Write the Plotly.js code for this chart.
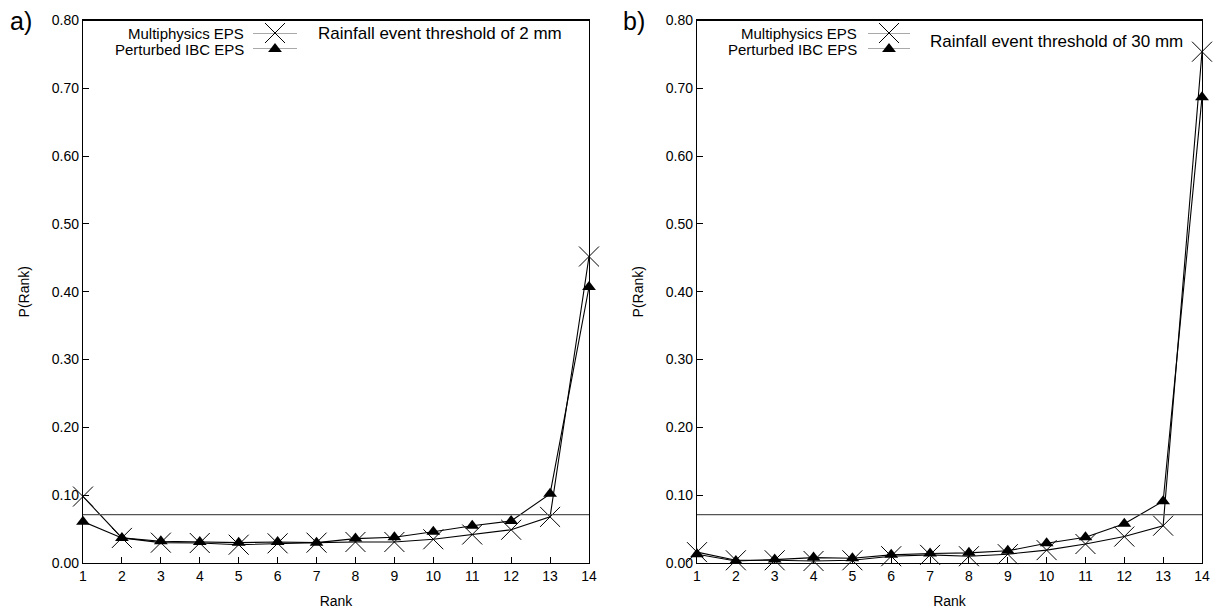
<!DOCTYPE html>
<html><head><meta charset="utf-8">
<script src="https://cdn.plot.ly/plotly-3.0.1.min.js"></script>
<style>html,body{margin:0;padding:0;background:#fff}#c{width:1226px;height:612px}</style>
</head><body><div id="c"></div>
<script>
const ranks = [1,2,3,4,5,6,7,8,9,10,11,12,13,14];
const multi2mm = [0.098,0.037,0.030,0.0295,0.027,0.029,0.030,0.031,0.031,0.035,0.042,0.049,0.068,0.452];
const pert2mm  = [0.061,0.037,0.032,0.031,0.030,0.031,0.030,0.036,0.038,0.046,0.055,0.062,0.102,0.407];
const multi30mm = [0.016,0.004,0.004,0.003,0.004,0.010,0.012,0.010,0.013,0.019,0.028,0.039,0.055,0.754];
const pert30mm  = [0.013,0.003,0.005,0.008,0.007,0.012,0.014,0.015,0.018,0.029,0.038,0.058,0.091,0.687];
const seriesNames = ['Multiphysics EPS','Perturbed IBC EPS'];
const panelTitles = ['Rainfall event threshold of 2 mm','Rainfall event threshold of 30 mm'];
const panelLabels = ['a)','b)'];
const yTicks = [0,0.1,0.2,0.3,0.4,0.5,0.6,0.7,0.8];
const yTickText = ['0.00','0.10','0.20','0.30','0.40','0.50','0.60','0.70','0.80'];
const uniformP = 1/ranks.length;

const FONT = 'Liberation Sans, Arial, sans-serif';
const xMarker = {symbol:'x-thin-open', size:20, color:'#000', line:{color:'#000', width:1}};
const tMarker = {symbol:'triangle-up', size:12, color:'#000', line:{color:'#000', width:0}};

function seriesTraces(xa, ya, m, p){
  return [
    {x:ranks, y:m, xaxis:xa, yaxis:ya, mode:'lines+markers', line:{color:'#000',width:1.1}, marker:xMarker, cliponaxis:false, showlegend:false, name:seriesNames[0]},
    {x:ranks, y:p, xaxis:xa, yaxis:ya, mode:'lines+markers', line:{color:'#000',width:1.1}, marker:tMarker, cliponaxis:false, showlegend:false, name:seriesNames[1]}
  ];
}
// legend sample traces on hidden overlay axes
function legendTraces(xa, ya){
  return [
    {x:[0,0.5,1], y:[1,1,1], xaxis:xa, yaxis:ya, mode:'lines', line:{color:'#555',width:1.1}, showlegend:false, hoverinfo:'skip'},
    {x:[0.5], y:[1], xaxis:xa, yaxis:ya, mode:'markers', marker:xMarker, showlegend:false, cliponaxis:false, hoverinfo:'skip'},
    {x:[0,0.5,1], y:[0,0,0], xaxis:xa, yaxis:ya, mode:'lines', line:{color:'#555',width:1.1}, showlegend:false, hoverinfo:'skip'},
    {x:[0.5], y:[0], xaxis:xa, yaxis:ya, mode:'markers', marker:tMarker, showlegend:false, cliponaxis:false, hoverinfo:'skip'}
  ];
}

const data = [
  ...seriesTraces('x','y',multi2mm,pert2mm),
  ...seriesTraces('x2','y2',multi30mm,pert30mm),
  ...legendTraces('x3','y3'),
  ...legendTraces('x4','y4')
];

const yDom = [49/612, 591.5/612];
function xAxis(dom, anchor){
  return {domain:dom, anchor:anchor, range:[1,14], tickvals:ranks, ticks:'inside', ticklen:6, tickcolor:'#000',
    showline:true, linecolor:'#000', linewidth:1.2, mirror:true, showgrid:false, zeroline:false,
    tickfont:{family:FONT,size:14,color:'#000'}, title:{text:'Rank', font:{family:FONT,size:14,color:'#000'}, standoff:13}};
}
function yAxis(anchor){
  return {domain:yDom, anchor:anchor, range:[0,0.8], tickvals:yTicks, ticktext:yTickText, ticks:'inside', ticklen:6, tickcolor:'#000',
    showline:true, linecolor:'#000', linewidth:1.2, mirror:true, showgrid:false, zeroline:false,
    tickfont:{family:FONT,size:14,color:'#000'}, title:{text:'P(Rank)', font:{family:FONT,size:14,color:'#000'}, standoff:18}};
}
const hid = {visible:false, showgrid:false, zeroline:false, fixedrange:true};
const dA = [83/1226, 589/1226], dB = [697/1226, 1202/1226];
const legY = [(612-49)/612, (612-33)/612];

const layout = {
  width:1226, height:612, margin:{l:0,r:0,t:0,b:0}, paper_bgcolor:'#fff', plot_bgcolor:'#fff', showlegend:false,
  font:{family:FONT, color:'#000'},
  xaxis:xAxis(dA,'y'), yaxis:yAxis('x'),
  xaxis2:xAxis(dB,'y2'), yaxis2:yAxis('x2'),
  xaxis3:Object.assign({domain:[253/1226,297/1226], range:[0,1], anchor:'y3'}, hid),
  yaxis3:Object.assign({domain:legY, range:[0,1], anchor:'x3'}, hid),
  xaxis4:Object.assign({domain:[868/1226,910/1226], range:[0,1], anchor:'y4'}, hid),
  yaxis4:Object.assign({domain:legY, range:[0,1], anchor:'x4'}, hid),
  shapes:[
    {type:'line', xref:'x', yref:'y', x0:1, x1:14, y0:uniformP, y1:uniformP, line:{color:'#555',width:1.2}},
    {type:'line', xref:'x2', yref:'y2', x0:1, x1:14, y0:uniformP, y1:uniformP, line:{color:'#555',width:1.2}}
  ],
  annotations:[
    {xref:'paper', yref:'paper', x:246/1226, y:(612-33)/612, xanchor:'right', yanchor:'middle', text:seriesNames[0], showarrow:false, font:{family:FONT,size:15}},
    {xref:'paper', yref:'paper', x:246/1226, y:(612-49)/612, xanchor:'right', yanchor:'middle', text:seriesNames[1], showarrow:false, font:{family:FONT,size:15}},
    {xref:'paper', yref:'paper', x:859/1226, y:(612-33)/612, xanchor:'right', yanchor:'middle', text:seriesNames[0], showarrow:false, font:{family:FONT,size:15}},
    {xref:'paper', yref:'paper', x:859/1226, y:(612-49)/612, xanchor:'right', yanchor:'middle', text:seriesNames[1], showarrow:false, font:{family:FONT,size:15}},
    {xref:'paper', yref:'paper', x:316/1226, y:(612-33)/612, xanchor:'left', yanchor:'middle', text:panelTitles[0], showarrow:false, font:{family:FONT,size:17}},
    {xref:'paper', yref:'paper', x:928/1226, y:(612-42)/612, xanchor:'left', yanchor:'middle', text:panelTitles[1], showarrow:false, font:{family:FONT,size:17}},
    {xref:'paper', yref:'paper', x:8/1226, y:(612-21)/612, xanchor:'left', yanchor:'middle', text:panelLabels[0], showarrow:false, font:{family:FONT,size:25}},
    {xref:'paper', yref:'paper', x:621/1226, y:(612-21)/612, xanchor:'left', yanchor:'middle', text:panelLabels[1], showarrow:false, font:{family:FONT,size:25}}
  ]
};
Plotly.newPlot('c', data, layout, {staticPlot:true});
</script></body></html>
